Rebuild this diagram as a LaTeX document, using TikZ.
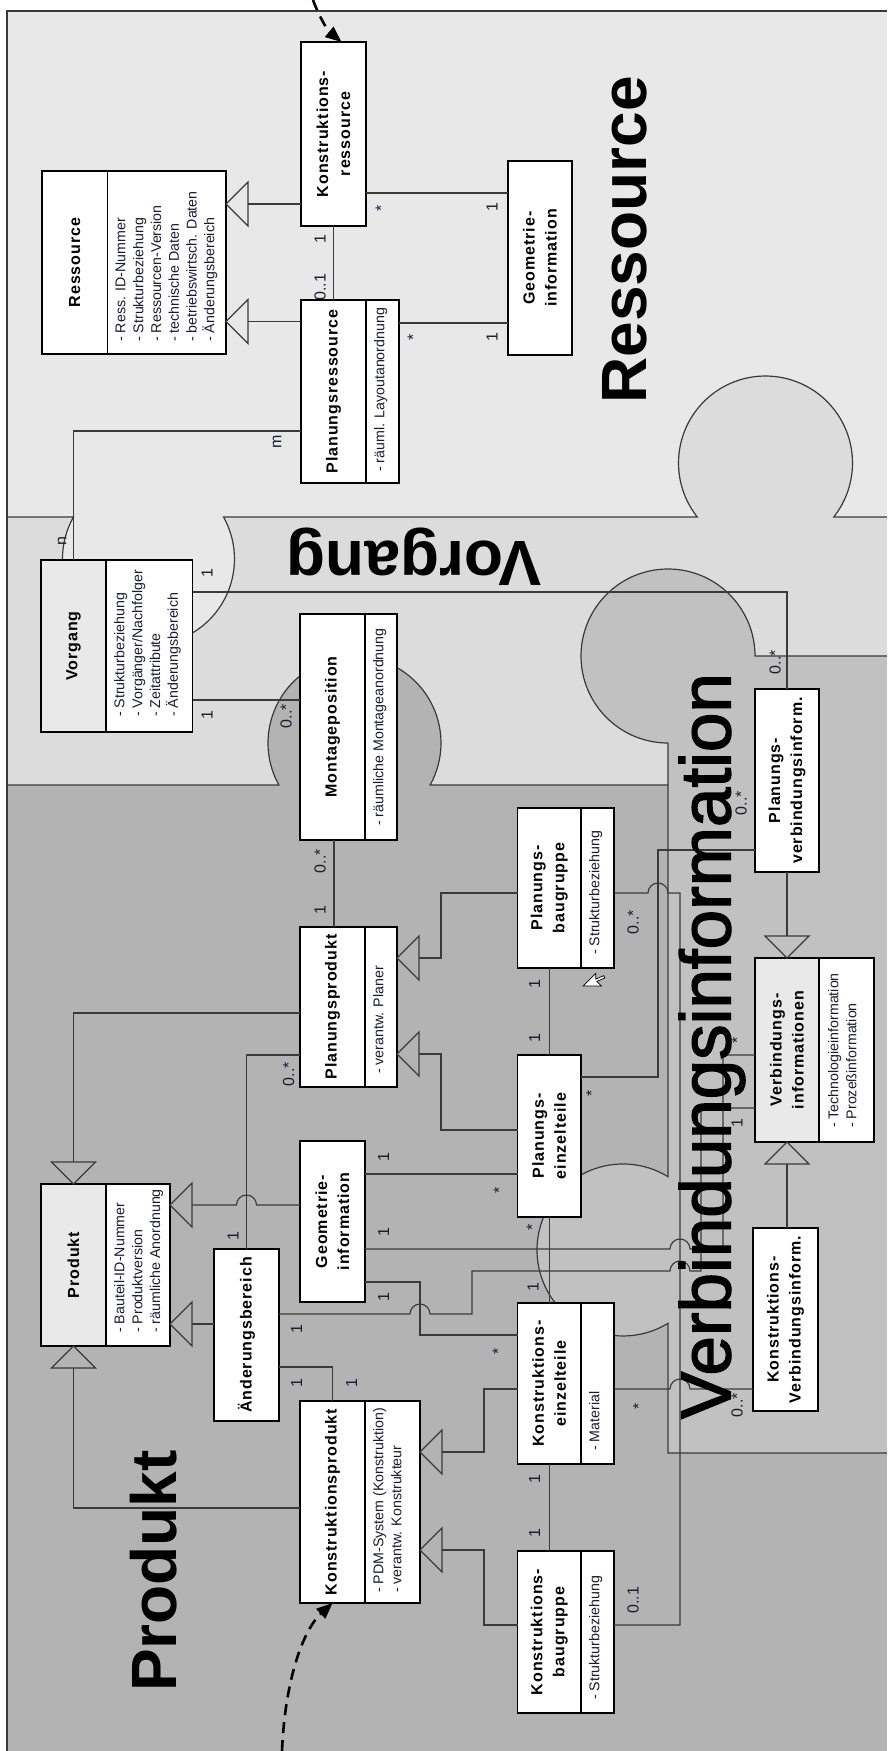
\documentclass[tikz,border=0pt]{standalone}
\usepackage{fontspec}
\setmainfont{Liberation Sans}
\newfontfamily\titlefamily{Liberation Sans}[LetterSpace=6]
\newfontfamily\heavyfamily{Liberation Sans}[FakeBold=2]
\usetikzlibrary{arrows.meta,calc}

\definecolor{resbg}{HTML}{E8E8E8}
\definecolor{vorbg}{HTML}{DCDCDC}
\definecolor{prodbg}{HTML}{B3B3B3}
\definecolor{verbbg}{HTML}{C1C1C1}
\definecolor{namebg}{HTML}{E9E9E9}
\definecolor{linec}{HTML}{3A3A3A}
\definecolor{inkc}{HTML}{1A1A33}

% class box with a name part and an attribute part: name, x1, x-divider, x2, y1, y2, fill of name part
\newcommand\classbox[7]{%
  \node[ubox, minimum width={#4-#2}, minimum height={#6-#5}] (#1) at (#2,#5) {};
  \node[ubox, fill=#7, minimum width={#3-#2}, minimum height={#6-#5}] (#1-n) at (#2,#5) {};}
% box with a single compartment: name, x1, y1, x2, y2
\newcommand\plainbox[5]{%
  \node[ubox, minimum width={#4-#2}, minimum height={#5-#3}] (#1) at (#2,#3) {};}
% hollow generalisation triangles, apex given
\newcommand\genleft[1]{\draw[conn] #1 -- ++(22,-22) -- ++(0,44) -- cycle;}
\newcommand\gendown[1]{\draw[conn] #1 -- ++(-22,-22) -- ++(44,0) -- cycle;}
\newcommand\genup[1]{\draw[conn] #1 -- ++(-22,22) -- ++(44,0) -- cycle;}

\begin{document}
\begin{tikzpicture}[x=1pt,y=-1pt,
  ubox/.style={draw=black, fill=white, line width=1.3pt, inner sep=0pt, outer sep=0pt, anchor=north west},
  conn/.style={draw=linec, line width=1.15pt},
  bound/.style={draw=linec, line width=1.2pt},
  title/.style={rotate=90, align=center, inner sep=0pt, text=black,
    font=\fontsize{16}{22}\selectfont\titlefamily\bfseries},
  attr/.style={rotate=90, anchor=north west, align=left, inner sep=0pt, text=inkc,
    font=\fontsize{14.2}{17.8}\selectfont},
  mult/.style={rotate=90, inner sep=0pt, text=inkc, font=\fontsize{16}{16}\selectfont},
  bigb/.style={inner sep=0pt, text=black, font=\fontsize{64}{64}\selectfont\bfseries},
  bigr/.style={inner sep=0pt, text=black, font=\fontsize{71}{71}\selectfont\heavyfamily},
  dasharr/.style={draw=black, line width=2.6pt, dash pattern=on 11pt off 7pt,
    -{Triangle[length=16pt,width=13pt]}}]
\useasboundingbox (0,0) rectangle (887,1751);

% ---------- puzzle regions ----------
\fill[prodbg] (7,11) rectangle (887,1751);
\fill[resbg] (7,11) rectangle (887,517);
\fill[vorbg] (7,517) rectangle (887,785);
\fill[vorbg] (765.5,463) circle[radius=87];
\fill[resbg] (148.5,559) circle[radius=86];
\fill[prodbg] (354.5,743) circle[radius=86.5];
\fill[verbbg] (668,656) rectangle (887,1453);
\fill[verbbg] (668,656) circle[radius=87];
\fill[verbbg] (623,1250) circle[radius=86];

\draw[bound] (7,517) -- (73.45,517) arc[start angle=209.23, end angle=-29.23, radius=86]
  -- (697.3,517) arc[start angle=141.63, end angle=398.37, radius=87] -- (887,517);
\draw[bound] (7,785) -- (278.9,785) arc[start angle=150.95, end angle=389.05, radius=86.5] -- (668,785);
\draw[bound] (668,743) arc[start angle=90, end angle=360, radius=87] -- (887,656);
\draw[bound] (668,743) -- (668,1176.7) arc[start angle=-58.45, end angle=-301.55, radius=86]
  -- (668,1453) -- (887,1453);
\draw[bound] (7,1751) -- (7,11) -- (887,11);

% ---------- classes ----------
\classbox{res}{42}{107.5}{226}{171}{354}{white}
\plainbox{kr}{301}{42}{366}{226}
\classbox{pr}{301}{366}{399}{300}{483}{white}
\plainbox{geor}{508}{161}{572}{355}
\classbox{vor}{41}{106}{192.5}{560}{732}{namebg}
\classbox{mont}{300}{365}{397}{614}{840}{white}
\classbox{pbg}{517.5}{581}{614}{808}{968}{white}
\plainbox{pvi}{755}{689}{819}{872}
\classbox{pp}{300}{365}{397}{927}{1087}{white}
\classbox{vi}{755}{819}{874}{958}{1142}{namebg}
\plainbox{pet}{517.5}{1055}{581}{1217}
\plainbox{geop}{300}{1141}{365}{1302}
\classbox{prod}{41}{106}{170}{1184}{1346}{namebg}
\plainbox{aend}{214}{1249}{279}{1421}
\classbox{kp}{300}{365}{420}{1401}{1603}{white}
\classbox{ket}{517.5}{581}{614}{1303}{1464}{white}
\classbox{kbg}{517.5}{581}{614}{1551}{1713}{white}
\plainbox{kvi}{753}{1228}{818}{1411}

% ---------- associations and generalisations ----------
% Ressource part
\draw[conn] (kr.west |- 0,204) -- ($(res.east |- 0,204)+(22,0)$);
\genleft{(res.east |- 0,204)}
\draw[conn] (pr.west |- 0,321.5) -- ($(res.east |- 0,321.5)+(22,0)$);
\genleft{(res.east |- 0,321.5)}
\draw[conn] (kr.south) -- (kr.south |- pr.north);
\draw[conn] (kr.east |- 0,193) -- (geor.west |- 0,193);
\draw[conn] (pr.east |- 0,323) -- (geor.west |- 0,323);
\draw[conn] (pr.west |- 0,431) -| (73.5,0 |- vor.north);
% Vorgang part
\draw[conn] (vor.east |- 0,700) -- (mont.west |- 0,700);
\draw[conn] (vor.east |- 0,592) -| (pvi.north);
% Produkt part
\draw[conn] (334,0 |- mont.south) -- (334,0 |- pp.north);
\draw[conn] (pbg.west |- 0,893) -- (441,893) -- (441,958) -- ($(pp.east |- 0,958)+(22,0)$);
\genleft{(pp.east |- 0,958)}
\draw[conn] (pet.west |- 0,1130) -- (441,1130) -- (441,1054) -- ($(pp.east |- 0,1054)+(22,0)$);
\genleft{(pp.east |- 0,1054)}
\draw[conn] (pet.north) -- (pet.north |- pbg.south);
\draw[conn] (pbg.east |- 0,893) -- (648,893) arc[start angle=180, end angle=360, radius=10]
  -- (680,893) -- (680,1625) -- (kbg.east |- 0,1625);
\draw[conn] (pet.east |- 0,1077) -- (658,1077) -- (658,850) -- (pvi.west |- 0,850);
\draw[conn] (pvi.south) -- ($(pvi.south |- vi.north)+(0,-22)$);
\gendown{(pvi.south |- vi.north)}
\draw[conn] (787,0 |- kvi.north) -- ($(787,0 |- vi.south)+(0,22)$);
\genup{(787,0 |- vi.south)}
\draw[conn] (pp.west |- 0,1013) -| ($(prod-n.north)+(0,-22)$);
\gendown{(prod-n.north)}
\draw[conn] (kp.west |- 0,1508) -| ($(prod-n.south)+(0,22)$);
\genup{(prod-n.south)}
\draw[conn] (geop.west |- 0,1205) -- (256.5,1205) arc[start angle=0, end angle=-180, radius=10]
  -- ($(prod.east |- 0,1205)+(22,0)$);
\genleft{(prod.east |- 0,1205)}
\draw[conn] (aend.west |- 0,1324) -- ($(prod.east |- 0,1324)+(22,0)$);
\genleft{(prod.east |- 0,1324)}
\draw[conn] (pp.west |- 0,1055) -| (aend.north);
\draw[conn] (aend.east |- 0,1367) -| (kp-n.north);
\draw[conn] (aend.east |- 0,1314) -- (410,1314) arc[start angle=180, end angle=360, radius=10]
  -- (472,1314) -- (472,1271) -- (670,1271) arc[start angle=180, end angle=360, radius=10]
  -- (701,1271) -- (701,1108) -- (vi.west |- 0,1108);
\draw[conn] (geop.east |- 0,1249) -- (670,1249) arc[start angle=180, end angle=360, radius=10]
  -- (723,1249) -- (723,1055) -- (vi.west |- 0,1055);
\draw[conn] (geop.east |- 0,1174) -- (pet.west |- 0,1174);
\draw[conn] (geop.east |- 0,1282) -- (420,1282) -- (420,1335) -- (ket.west |- 0,1335);
\draw[conn] (pet.south) -- (pet.south |- ket.north);
\draw[conn] (ket.west |- 0,1389) -- (484,1389) -- (484,1452) -- ($(kp.east |- 0,1452)+(22,0)$);
\genleft{(kp.east |- 0,1452)}
\draw[conn] (kbg.west |- 0,1625) -- (484,1625) -- (484,1550) -- ($(kp.east |- 0,1550)+(22,0)$);
\genleft{(kp.east |- 0,1550)}
\draw[conn] (ket-n.south) -- (ket-n.south |- kbg.north);
\draw[conn] (ket.east |- 0,1389) -- (670,1389) arc[start angle=180, end angle=360, radius=10]
  -- (kvi.west |- 0,1389);

% ---------- area names ----------
\node[bigb, rotate=90] (lres) at (625,240) {Ressource};
\node[bigb, rotate=180] (lvor) at (414,557) {Vorgang};
\node[bigr, rotate=90] (lverb) at (712,1046) {Verbindungsinformation};
\node[bigb, rotate=90] (lprod) at (154,1571) {Produkt};

% ---------- class names ----------
\node[title] at (res-n) {Ressource};
\node[title] at (kr) {Konstruktions-\\ressource};
\node[title] at (pr-n) {Planungsressource};
\node[title] at (geor) {Geometrie-\\information};
\node[title] at (vor-n) {Vorgang};
\node[title] at (mont-n) {Montageposition};
\node[title] at (pbg-n) {Planungs-\\baugruppe};
\node[title] at (pvi) {Planungs-\\verbindungsinform.};
\node[title] at (pp-n) {Planungsprodukt};
\node[title] at (vi-n) {Verbindungs-\\informationen};
\node[title] at (pet) {Planungs-\\einzelteile};
\node[title] at (geop) {Geometrie-\\information};
\node[title] at (prod-n) {Produkt};
\node[title] at (aend) {Änderungsbereich};
\node[title] at (kp-n) {Konstruktionsprodukt};
\node[title] at (ket-n) {Konstruktions-\\einzelteile};
\node[title] at (kbg-n) {Konstruktions-\\baugruppe};
\node[title] at (kvi) {Konstruktions-\\Verbindungsinform.};

% ---------- attributes ----------
\node[attr] at ($(res-n.south east)+(8,-12)$) {- Ress. ID-Nummer\\- Strukturbeziehung\\- Ressourcen-Version\\- technische Daten\\- betriebswirtsch. Daten\\- Änderungsbereich};
\node[attr] at ($(pr-n.south east)+(8,-11)$) {- räuml. Layoutanordnung};
\node[attr] at ($(vor-n.south east)+(8,-15)$) {- Strukturbeziehung\\- Vorgänger/Nachfolger\\- Zeitattribute\\- Änderungsbereich};
\node[attr] at ($(mont-n.south east)+(8,-14)$) {- räumliche Montageanordnung};
\node[attr] at ($(pbg-n.south east)+(8,-13)$) {- Strukturbeziehung};
\node[attr] at ($(pp-n.south east)+(8,-13)$) {- verantw. Planer};
\node[attr] at ($(vi-n.south east)+(9,-14)$) {- Technologieinformation\\- Prozeßinformation};
\node[attr] at ($(prod-n.south east)+(8,-13)$) {- Bauteil-ID-Nummer\\- Produktversion\\- räumliche Anordnung};
\node[attr] at ($(kp-n.south east)+(8,-10)$) {- PDM-System (Konstruktion)\\- verantw. Konstrukteur};
\node[attr] at ($(ket-n.south east)+(8,-13)$) {- Material};
\node[attr] at ($(kbg-n.south east)+(8,-13)$) {- Strukturbeziehung};

% ---------- multiplicities ----------
\node[mult] at (320,239) {1};
\node[mult] at (320,287) {0..1};
\node[mult] at (381,208) {*};
\node[mult] at (492,207) {1};
\node[mult] at (413,337) {*};
\node[mult] at (492,337) {1};
\node[mult] at (277,442) {m};
\node[mult] at (62,541) {n};
\node[mult] at (207,573) {1};
\node[mult] at (207,715) {1};
\node[mult] at (286,716) {0..*};
\node[mult] at (775,662) {0..*};
\node[mult] at (320,861) {0..*};
\node[mult] at (320,910) {1};
\node[mult] at (633,922) {0..*};
\node[mult] at (534.5,984) {1};
\node[mult] at (534.5,1038) {1};
\node[mult] at (741,803) {0..*};
\node[mult] at (591.5,1093) {*};
\node[mult] at (288.5,1074) {0..*};
\node[mult] at (737,1040) {*};
\node[mult] at (737,1123) {1};
\node[mult] at (233,1236) {1};
\node[mult] at (383.5,1157) {1};
\node[mult] at (499,1190) {*};
\node[mult] at (383.5,1232) {1};
\node[mult] at (383.5,1297) {1};
\node[mult] at (296.5,1329) {1};
\node[mult] at (296.5,1383) {1};
\node[mult] at (351.5,1383) {1};
\node[mult] at (532,1227) {*};
\node[mult] at (533,1287) {1};
\node[mult] at (498,1351) {*};
\node[mult] at (638.5,1406) {*};
\node[mult] at (737,1405) {0..*};
\node[mult] at (534.5,1479) {1};
\node[mult] at (534.5,1533) {1};
\node[mult] at (633,1600) {0..1};

% ---------- incoming dashed arrows ----------
\coordinate (topin) at (313,0);
\coordinate (botin) at (282,1751);
\draw[dasharr] (topin) .. controls (318,14) and (327,30) .. ($(kr.north)+(8,0)$);
\draw[dasharr] (botin) .. controls (285,1680) and (303,1630) .. (kp-n.south);

% ---------- mouse pointer ----------
\filldraw[fill=white, draw=black, line width=0.7pt, shift={(583,986)}, scale=1.15]
  (0,0) -- (16,0) -- (12,-4) -- (19,-7) -- (18,-9) -- (11,-6) -- (11,-11) -- cycle;
\end{tikzpicture}
\end{document}
